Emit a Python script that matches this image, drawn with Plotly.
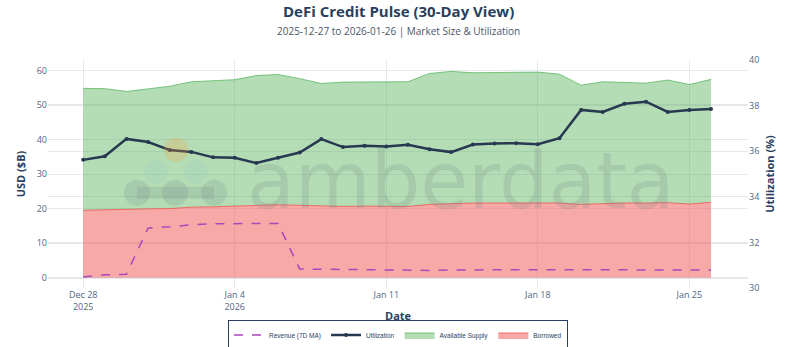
import pandas as pd
import plotly.graph_objects as go

dates = pd.date_range("2025-12-28", periods=30, freq="D")

borrowed = [19.5, 19.7, 19.8, 19.9, 20.0, 20.4, 20.5, 20.6, 20.9, 21.1,
            20.9, 20.6, 20.6, 20.7, 20.7, 20.6, 21.2, 21.5, 21.6, 21.6,
            21.6, 21.6, 21.6, 21.2, 21.5, 21.6, 21.6, 21.7, 21.3, 21.8]
available = [35.3, 35.0, 34.1, 34.7, 35.4, 36.3, 36.5, 36.7, 37.6, 37.7,
             36.7, 35.6, 36.0, 35.9, 36.1, 36.1, 37.9, 38.2, 37.7, 37.7,
             37.9, 37.9, 37.3, 34.5, 35.2, 34.8, 34.7, 35.5, 34.6, 35.6]
revenue = [0.2, 0.8, 1.0, 14.4, 14.7, 15.3, 15.6, 15.7, 15.7, 15.7,
           2.5, 2.4, 2.3, 2.2, 2.2, 2.2, 2.1, 2.2, 2.3, 2.3,
           2.3, 2.3, 2.3, 2.2, 2.3, 2.3, 2.2, 2.2, 2.2, 2.2]
utilization = [35.62, 35.78, 36.54, 36.40, 36.05, 35.97, 35.73, 35.71, 35.48, 35.71,
               35.94, 36.53, 36.18, 36.24, 36.21, 36.28, 36.09, 35.96, 36.29, 36.34,
               36.35, 36.31, 36.57, 37.81, 37.72, 38.08, 38.17, 37.72, 37.81, 37.85]

title_text = "DeFi Credit Pulse (30-Day View)"
subtitle_text = "2025-12-27 to 2026-01-26 | Market Size &amp; Utilization"
x_title = "Date"

NAVY = "#2A3F5F"
FONT = "Open Sans"
W, H = 800, 347

fig = go.Figure()
fig.add_trace(go.Scatter(x=dates, y=borrowed, name="Borrowed", stackgroup="s",
                         mode="lines", line=dict(color="rgba(239,83,80,0.8)", width=1),
                         fillcolor="rgba(239,83,80,0.5)"))
fig.add_trace(go.Scatter(x=dates, y=available, name="Available Supply", stackgroup="s",
                         mode="lines", line=dict(color="rgba(76,175,80,0.7)", width=1),
                         fillcolor="rgba(76,175,80,0.42)"))
fig.add_trace(go.Scatter(x=dates, y=utilization, name="Utilization", yaxis="y2",
                         mode="lines+markers", line=dict(color="#283850", width=2.5),
                         marker=dict(size=4, color="#283850")))
fig.add_trace(go.Scatter(x=dates, y=revenue, name="Revenue (7D MA)",
                         mode="lines", line=dict(color="#AB47BC", width=1.5, dash="dash")))

# plot-area pixel helpers for decorations (plot area ~ x 48..748, y 60..288.5)
PL, PW, PT, PH = 48, 700, 60, 228.5
def px(x):
    return (x - PL) / PW
def py(y):
    return (PT + PH - y) / PH

shapes = []
def circ(cx, cy, r, color):
    shapes.append(dict(type="circle", xref="paper", yref="paper",
                       x0=px(cx - r), x1=px(cx + r), y0=py(cy + r), y1=py(cy - r),
                       fillcolor=color, line=dict(width=0), layer="above"))
grey = "rgba(110,130,125,0.18)"
light = "rgba(150,190,200,0.16)"
circ(137, 193, 13, grey)
circ(175, 193, 13, grey)
circ(214, 193, 13, grey)
shapes.append(dict(type="rect", xref="paper", yref="paper", x0=px(137), x1=px(214),
                   y0=py(199), y1=py(187), fillcolor=grey, line=dict(width=0), layer="above"))
circ(156, 172, 12, light)
circ(196, 172, 12, light)
circ(176, 150, 12, "rgba(255,160,60,0.25)")

fig.update_layout(
    width=W, height=H,
    margin=dict(l=48, r=52, t=60, b=58.5, autoexpand=False),
    template="plotly_white",
    font=dict(family=FONT, color=NAVY),
    xaxis=dict(
        range=["2025-12-26 09:00", "2026-01-27 17:00"],
        tick0="2025-12-28", dtick=7 * 86400000,
        tickfont=dict(size=9, color="#506784"),
        showgrid=True, gridcolor="#E5E8EC"),
    yaxis=dict(
        range=[-3, 63], dtick=10,
        title=dict(text="<b>USD ($B)</b>", font=dict(size=11, color=NAVY), standoff=8),
        tickfont=dict(size=9, color="#506784"),
        gridcolor="#E5E8EC", zeroline=True, zerolinecolor="#E5E8EC"),
    yaxis2=dict(
        range=[30, 40], dtick=2, overlaying="y", side="right",
        title=dict(text="<b>Utilization (%)</b>", font=dict(size=11, color=NAVY), standoff=8),
        tickfont=dict(size=9, color="#506784"),
        showgrid=True, gridcolor="#E5E8EC", zeroline=False),
    legend=dict(
        orientation="h", x=0.5, xanchor="center",
        yref="container", y=(H - 335) / H, yanchor="middle",
        traceorder="reversed", bordercolor=NAVY, borderwidth=1,
        font=dict(size=6.5, family="Liberation Sans", color="#2A3F5F"),
        itemwidth=30, tracegroupgap=0),
    shapes=shapes,
    annotations=[
        dict(text="<b>%s</b>" % title_text, xref="paper", yref="paper",
             x=0.5, xanchor="center", y=py(11), yanchor="middle",
             showarrow=False, font=dict(size=15, color=NAVY, family=FONT)),
        dict(text=subtitle_text, xref="paper", yref="paper",
             x=0.5, xanchor="center", y=py(31), yanchor="middle",
             showarrow=False, font=dict(size=10, color="#4A5568", family=FONT)),
        dict(text="<b>%s</b>" % x_title, xref="paper", yref="paper",
             x=0.5, xanchor="center", y=py(316), yanchor="middle",
             showarrow=False, font=dict(size=11, color=NAVY, family=FONT)),
        dict(text="amberdata", xref="paper", yref="paper",
             x=px(245), xanchor="left", y=py(181), yanchor="middle",
             showarrow=False,
             font=dict(size=78, family="DejaVu Sans", color="rgba(110,130,125,0.2)")),
    ],
)

fig.write_html("out.html")
